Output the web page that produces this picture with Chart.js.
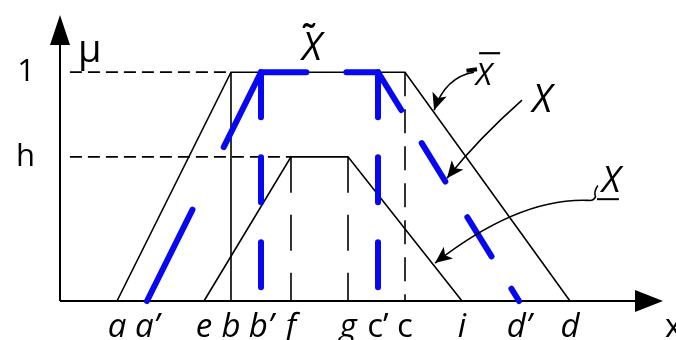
<!DOCTYPE html>
<html>
<head>
<meta charset="utf-8">
<script src="https://cdn.jsdelivr.net/npm/chart.js@4.4.1/dist/chart.umd.min.js"></script>
<style>
  html, body { margin: 0; padding: 0; background: #fff; }
  #wrap { width: 676px; height: 340px; }
</style>
</head>
<body>
<div id="wrap"><canvas id="fuzzyChart"></canvas></div>
<script>
// breakpoints on the x axis
const tickLabels = ['a', 'a\u2019', 'e', 'b', 'b\u2019', 'f', 'g', 'c\u2019', 'c', 'i', 'd\u2019', 'd'];
const tickValues = [1.9, 2.9, 4.8, 5.7, 6.7, 7.7, 9.6, 10.6, 11.5, 13.4, 15.3, 17.0];
const h = 0.63;
const muLabels = ['h', '1'];
const muValues = [h, 1];

// upper bound, the estimate and lower bound trapezoids
const upperX = [1.9, 5.7, 11.5, 17.0];
const upperMu = [0, 1, 1, 0];
const middleX = [2.9, 6.7, 10.6, 15.3];
const middleMu = [0, 1, 1, 0];
const lowerX = [4.8, 7.7, 9.6, 13.4];
const lowerMu = [0, h, h, 0];

const guideStart = 0.33;
const BLUE = '#0707f2';

const pts = (xs, ys) => xs.map((x, i) => ({ x: x, y: ys[i] }));
const seg = (x0, y0, x1, y1) => [{ x: x0, y: y0 }, { x: x1, y: y1 }];

function lineSet(data, opts) {
  return Object.assign({
    data: data,
    showLine: true,
    pointRadius: 0,
    borderColor: '#000',
    borderWidth: 1.6,
    tension: 0,
    clip: false
  }, opts || {});
}

const datasets = [
  lineSet(pts(middleX, middleMu), {
    borderColor: BLUE, borderWidth: 6, borderCapStyle: 'round', borderJoinStyle: 'miter',
    borderDash: [102, 70, 129, 40, 76, 39, 45, 42, 46, 38, 40, 40]
  }),
  lineSet(seg(middleX[1], 1, middleX[1], 0), { borderColor: BLUE, borderWidth: 6, borderCapStyle: 'round', borderDash: [45, 40] }),
  lineSet(seg(middleX[2], 1, middleX[2], 0), { borderColor: BLUE, borderWidth: 6, borderCapStyle: 'round', borderDash: [45, 40] }),
  lineSet(pts(upperX, upperMu)),
  lineSet(pts(lowerX, lowerMu)),
  lineSet(seg(upperX[1], 1, upperX[1], 0)),
  lineSet(seg(upperX[2], 1, upperX[2], 0), { borderDash: [24, 13] }),
  lineSet(seg(lowerX[1], h, lowerX[1], 0), { borderDash: [36, 22] }),
  lineSet(seg(lowerX[2], h, lowerX[2], 0), { borderDash: [36, 22] }),
  lineSet(seg(guideStart, 1, upperX[1], 1), { borderDash: [12, 6], borderWidth: 1.8 }),
  lineSet(seg(guideStart, h, lowerX[1], h), { borderDash: [12, 6], borderWidth: 1.8 })
];

function arrowHead(ctx, fx, fy, tx, ty, len, half) {
  const ang = Math.atan2(ty - fy, tx - fx);
  const bx = tx - len * Math.cos(ang), by = ty - len * Math.sin(ang);
  ctx.beginPath();
  ctx.moveTo(tx, ty);
  ctx.lineTo(bx + half * Math.sin(ang), by - half * Math.cos(ang));
  ctx.lineTo(bx + len * 0.25 * Math.cos(ang), by + len * 0.25 * Math.sin(ang));
  ctx.lineTo(bx - half * Math.sin(ang), by + half * Math.cos(ang));
  ctx.closePath();
  ctx.fill();
}

// curved pointer: p = [start, ctrl1, ctrl2?, tip]
function pointer(ctx, p) {
  ctx.beginPath();
  ctx.moveTo(p[0][0], p[0][1]);
  if (p.length === 3) ctx.quadraticCurveTo(p[1][0], p[1][1], p[2][0], p[2][1]);
  else ctx.bezierCurveTo(p[1][0], p[1][1], p[2][0], p[2][1], p[3][0], p[3][1]);
  ctx.stroke();
  const tip = p[p.length - 1], prev = p[p.length - 2];
  arrowHead(ctx, prev[0], prev[1], tip[0], tip[1], 17, 7.5);
}

// keep the plot box fixed: no extra room for edge labels
function noPadding(s) {
  s.paddingTop = 0;
  s.paddingBottom = 0;
  s.paddingLeft = 0;
  s.paddingRight = 0;
}

const fuzzyDecor = {
  id: 'fuzzyDecor',
  beforeDatasetsDraw(chart) {
    const { ctx, chartArea: ca, scales: { x, y } } = chart;
    const x0 = x.getPixelForValue(0), y0 = y.getPixelForValue(0);
    ctx.save();
    ctx.strokeStyle = '#000';
    ctx.fillStyle = '#000';
    ctx.lineWidth = 2;
    ctx.beginPath();
    ctx.moveTo(x0, y0);
    ctx.lineTo(x0, ca.top + 20);
    ctx.moveTo(x0, y0);
    ctx.lineTo(ca.right - 10, y0);
    ctx.stroke();
    ctx.beginPath();
    ctx.moveTo(x0, ca.top);
    ctx.lineTo(x0 - 10, ca.top + 30);
    ctx.lineTo(x0 + 10, ca.top + 30);
    ctx.closePath();
    ctx.fill();
    const xt = ca.right + 3;
    ctx.beginPath();
    ctx.moveTo(xt, y0);
    ctx.lineTo(xt - 28, y0 - 11);
    ctx.lineTo(xt - 28, y0 + 11);
    ctx.closePath();
    ctx.fill();
    ctx.restore();
  },
  afterDraw(chart) {
    const { ctx, scales: { x, y } } = chart;
    const P = (xv, yv) => [x.getPixelForValue(xv), y.getPixelForValue(yv)];
    ctx.save();
    ctx.fillStyle = '#000';
    ctx.strokeStyle = '#000';
    ctx.textBaseline = 'alphabetic';

    // axis names
    ctx.textAlign = 'left';
    ctx.font = '38px "Open Sans"';
    let q = P(0.6, 1.045);
    ctx.fillText('\u03bc', q[0], q[1]);
    ctx.font = '32px "Open Sans"';
    q = P(20.17, -0.157);
    ctx.fillText('x', q[0], q[1]);

    ctx.textAlign = 'center';
    ctx.font = 'italic 38px "Open Sans"';
    // estimate
    q = P(8.4, 1.052);
    ctx.fillText('X', q[0], q[1]);
    ctx.font = 'bold 32px "Open Sans"';
    q = P(8.3, 1.105);
    ctx.fillText('\u02dc', q[0], q[1]);

    // upper bound
    ctx.font = 'italic 31px "Open Sans"';
    q = P(14.13, 0.943);
    ctx.fillText('X', q[0], q[1]);
    ctx.lineWidth = 2.2;
    const b0 = P(13.97, 1.083), b1 = P(14.67, 1.083);
    ctx.beginPath(); ctx.moveTo(b0[0], b0[1]); ctx.lineTo(b1[0], b1[1]); ctx.stroke();

    // measured value
    ctx.font = 'italic 38px "Open Sans"';
    q = P(16.07, 0.825);
    ctx.fillText('X', q[0], q[1]);

    // lower bound
    ctx.font = 'italic 36px "Open Sans"';
    q = P(18.37, 0.476);
    ctx.fillText('X', q[0], q[1]);
    const u0 = P(17.9, 0.445), u1 = P(18.63, 0.445);
    ctx.lineWidth = 2;
    ctx.beginPath(); ctx.moveTo(u0[0], u0[1]); ctx.lineTo(u1[0], u1[1]); ctx.stroke();

    // pointers
    ctx.lineWidth = 1.6;
    pointer(ctx, [P(13.8, 1.0), P(12.85, 0.98), P(12.47, 0.834)]);
    ctx.lineWidth = 4;
    const t0 = P(13.55, 1.006), t1 = P(13.9, 1.013);
    ctx.beginPath(); ctx.moveTo(t0[0], t0[1]); ctx.lineTo(t1[0], t1[1]); ctx.stroke();

    ctx.lineWidth = 1.6;
    pointer(ctx, [P(15.4, 0.878), P(13.95, 0.71), P(12.9, 0.537)]);

    // wavy tail of the lower pointer
    const w = [P(17.93, 0.505), P(17.78, 0.478), P(17.85, 0.455), P(17.6, 0.44)];
    ctx.beginPath();
    ctx.moveTo(w[0][0], w[0][1]);
    ctx.quadraticCurveTo(w[1][0], w[1][1], w[2][0], w[2][1]);
    ctx.quadraticCurveTo(w[2][0] - 2, w[3][1] + 1, w[3][0], w[3][1]);
    ctx.stroke();
    pointer(ctx, [P(17.6, 0.44), P(16.0, 0.448), P(14.3, 0.35), P(12.5, 0.166)]);
    ctx.restore();
  }
};

const ctx = document.getElementById('fuzzyChart').getContext('2d');
new Chart(ctx, {
  type: 'scatter',
  data: { datasets: datasets },
  options: {
    responsive: true,
    maintainAspectRatio: false,
    animation: false,
    events: [],
    layout: { padding: { top: 15, right: 16, bottom: 0, left: 0 } },
    plugins: { legend: { display: false }, tooltip: { enabled: false } },
    scales: {
      x: {
        type: 'linear', min: 0, max: 20,
        grid: { display: false, drawTicks: false },
        border: { display: false },
        afterBuildTicks: s => { s.ticks = tickValues.map(v => ({ value: v })); },
        afterFit: s => { s.height = 39; noPadding(s); },
        ticks: {
          autoSkip: false, maxRotation: 0, padding: 7, color: '#000',
          font: c => ({
            family: 'Open Sans', size: 33,
            style: (tickLabels[c.index] || '').charAt(0) === 'c' ? 'normal' : 'italic'
          }),
          callback: (v, i) => tickLabels[i]
        }
      },
      y: {
        type: 'linear', min: 0, max: 1.25,
        grid: { display: false, drawTicks: false },
        border: { display: false },
        afterBuildTicks: s => { s.ticks = muValues.map(v => ({ value: v })); },
        afterFit: s => { s.width = 60; noPadding(s); },
        ticks: {
          padding: 25, color: '#000',
          font: { family: 'Open Sans', size: 31 },
          callback: (v, i) => muLabels[i]
        }
      }
    }
  },
  plugins: [fuzzyDecor]
});
</script>
</body>
</html>
